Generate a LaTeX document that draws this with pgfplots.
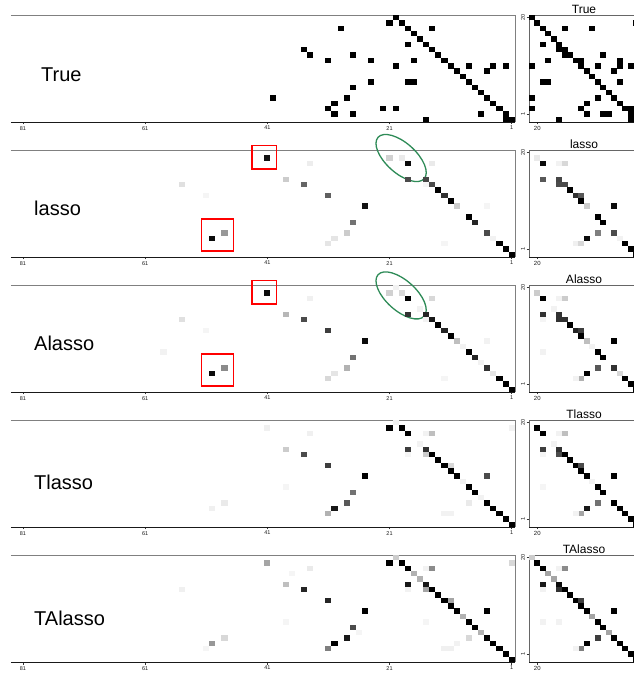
\documentclass[border=0pt]{standalone}
\usepackage{fontspec}
\setmainfont{Liberation Sans}
\usepackage{pgfplots}
\usepackage{pgfplotstable}
\pgfplotsset{compat=1.18}
\usetikzlibrary{shapes.geometric}

\definecolor{ringgreen}{RGB}{46,139,87}

% one filled cell of the coefficient image
\pgfdeclareplotmark{wcell}{\pgfpathrectangle{\pgfpoint{-3.08pt}{-2.7pt}}{\pgfpoint{6.16pt}{5.4pt}}\pgfusepathqfill}
\pgfdeclareplotmark{ncell}{\pgfpathrectangle{\pgfpoint{-2.77pt}{-2.7pt}}{\pgfpoint{5.54pt}{5.4pt}}\pgfusepathqfill}

% ---------- lag matrices: column, row, |coefficient| ----------
\pgfplotstableread{
c r v
20 20 1
21 19 1
19 19 1
18 18 1
17 17 1
16 16 1
15 15 1
14 14 1
13 13 1
12 12 1
11 11 1
10 10 1
9 9 1
8 8 1
7 7 1
6 6 1
5 5 1
4 4 1
3 3 1
2 2 1
1 1 1
2 1 1
35 14 1
34 13 1
40 5 1
29 18 1
31 12 1
27 13 1
24 12 1
20 11 1
18 15 1
17 12 1
14 18 1
24 8 1
18 8 1
17 8 1
27 7 1
28 5 1
30 4 1
31 3 1
30 2 1
27 2 1
22 3 1
20 3 1
15 1 1
8 11 1
5 10 1
4 11 1
2 11 1
6 2 1
}\trueW

\pgfplotstableread{
c r v
20 20 1
19 19 1
18 18 1
17 17 1
16 16 1
15 15 1
14 14 1
13 13 1
12 12 1
11 11 1
10 10 1
9 9 1
8 8 1
7 7 1
6 6 1
5 5 1
4 4 1
3 3 1
2 2 1
1 1 1
2 1 1
1 19 1
15 14 1
14 13 1
20 5 1
9 18 1
11 12 1
7 13 1
4 12 1
20 11 1
18 15 1
17 12 1
14 18 1
4 8 1
18 8 1
17 8 1
8 5 1
10 4 1
11 3 1
10 2 1
7 2 1
2 3 1
20 3 1
15 1 1
8 11 1
5 10 1
4 11 1
2 11 1
6 2 1
}\trueN

\pgfplotstableread{
c r v
41 19 0.92
34 18 0.07
55 14 0.12
51 12 0.04
38 15 0.2
35 14 0.6
31 12 0.62
27 7 0.55
28 5 0.2
30 4 0.1
31 3 0.1
50 4 0.95
48 5 0.4
21 19 0.18
19 19 0.08
18 18 0.95
14 18 0.08
18 15 0.7
15 15 0.72
14 14 0.7
15 14 0.04
13 13 1
12 12 0.8
11 11 1
10 10 0.2
5 10 0.04
25 10 0.92
8 8 1
7 7 0.85
5 5 0.7
4 4 0.05
3 3 1
2 2 1
1 1 1
12 3 0.04
}\lassoW

\pgfplotstableread{
c r v
19 19 0.08
18 18 0.95
15 18 0.05
14 18 0.15
18 15 0.65
15 15 0.72
15 14 0.7
14 14 0.7
13 13 1
12 12 0.8
11 12 0.65
11 11 1
10 10 0.2
5 10 0.95
8 8 1
7 7 1
8 5 0.5
5 5 0.7
4 4 0.05
10 4 0.95
3 3 1
2 2 1
1 1 1
12 3 0.06
11 3 0.15
}\lassoN

\pgfplotstableread{
c r v
41 19 0.95
34 18 0.06
55 14 0.12
51 12 0.04
38 15 0.28
35 14 0.7
31 12 0.75
58 8 0.05
50 4 0.95
48 5 0.45
28 5 0.3
30 4 0.1
31 3 0.15
27 7 0.55
21 19 0.18
20 20 0.05
19 19 0.15
18 18 1
14 18 0.15
16 16 0.05
18 15 0.8
15 15 0.85
14 14 0.9
15 14 0.05
13 13 1
12 12 0.85
11 11 1
10 10 0.25
9 9 0.05
5 10 0.05
25 10 0.95
8 8 1
7 7 0.85
6 6 0.05
5 5 0.8
4 4 0.1
3 3 1
2 2 1
1 1 1
12 3 0.04
}\alassoW

\pgfplotstableread{
c r v
19 19 0.2
18 18 1
15 18 0.05
14 18 0.2
16 16 0.05
18 15 0.8
18 14 0.04
15 15 0.8
15 14 0.8
14 14 0.8
13 13 1
12 12 0.85
11 12 0.75
11 11 1
10 10 0.25
5 10 1
9 9 0.05
18 8 0.05
8 8 1
7 7 1
8 5 0.65
5 5 0.8
4 4 0.15
10 4 1
3 3 1
11 3 0.3
12 3 0.05
2 2 1
1 1 1
}\alassoN

\pgfplotstableread{
c r v
20 20 0.05
21 19 1
19 19 1
18 18 1
15 18 0.05
14 18 0.25
41 19 0.06
34 18 0.06
38 15 0.2
35 14 0.7
31 12 0.75
25 10 1
27 7 0.55
28 5 0.65
30 4 0.9
31 3 0.3
38 8 0.04
48 5 0.08
50 4 0.06
18 15 0.75
18 14 0.04
16 16 0.05
15 15 0.8
15 14 0.2
14 14 1
13 13 1
12 12 1
11 12 0.15
11 11 1
10 10 1
9 9 0.06
5 10 0.7
8 8 1
7 7 1
6 6 0.05
8 5 0.08
5 5 1
4 4 1
3 3 1
2 2 1
1 1 1
12 3 0.05
11 3 0.05
1 19 0.05
}\tlassoW

\pgfplotstableread{
c r v
19 19 1
18 18 1
15 18 0.05
14 18 0.25
16 16 0.05
18 15 0.75
18 14 0.04
15 15 0.8
15 14 0.7
14 14 1
13 13 1
12 12 1
11 12 0.7
11 11 1
10 10 1
5 10 1
9 9 0.05
18 8 0.04
8 8 1
7 7 1
8 5 0.55
5 5 1
4 4 1
10 4 0.9
3 3 1
11 3 0.35
12 3 0.05
2 2 1
1 1 1
}\tlassoN

\pgfplotstableread{
c r v
20 20 0.2
21 19 1
19 19 1
18 18 1
17 17 0.3
16 16 0.3
15 18 0.05
14 18 0.45
41 19 0.35
34 18 0.08
37 17 0.04
55 14 0.06
38 15 0.25
35 14 0.85
31 12 0.85
25 10 1
27 7 0.7
28 5 0.9
26 6 0.04
30 4 1
31 3 0.5
38 8 0.04
48 5 0.15
50 4 0.4
51 3 0.04
18 15 0.9
18 14 0.05
15 15 0.9
15 14 0.35
14 14 1
13 13 1
12 12 1
11 12 0.35
11 11 1
10 10 1
9 9 0.3
15 8 0.04
8 8 1
7 7 1
6 6 0.3
8 5 0.15
5 10 1
5 5 1
4 4 1
3 3 1
2 2 1
1 1 1
12 3 0.06
11 3 0.06
10 4 0.05
1 19 0.15
}\talassoW

\pgfplotstableread{
c r v
20 20 0.2
19 19 1
18 18 1
17 17 0.35
16 16 0.35
15 18 0.05
14 18 0.45
18 15 0.9
18 14 0.05
15 15 0.95
15 14 0.8
14 14 1
13 13 1
12 12 1
11 12 0.75
11 11 1
10 10 1
5 10 1
9 9 0.35
18 8 0.05
15 8 0.05
8 8 1
7 7 1
6 6 0.35
8 5 0.75
5 5 1
4 4 1
10 4 1
3 3 1
11 3 0.5
12 3 0.05
2 2 1
1 1 1
}\talassoN

\pgfplotsset{
  cellmap/.style={colormap={bw}{color=(white) color=(black)},
    point meta min=0, point meta max=1},
  wide/.style={cellmap, anchor=north west,
    x=6.11pt, y=5.35pt, x dir=reverse,
    xmin=0.45, xmax=82.95, ymin=0.5, ymax=20.5,
    axis line style={draw=none}, clip=false,
    xtick={1,21,41,61,81}, xticklabels={1,21,41,61,81}, ytick=\empty,
    xtick pos=lower, tick align=outside, major tick length=2.5pt,
    tick style={black!80, line width=0.6pt},
    xticklabel style={font=\fontsize{5.5}{5.5}\selectfont, text=black!90, inner sep=1.5pt}},
  narrow/.style={cellmap, anchor=north west,
    x=5.5pt, y=5.35pt, x dir=reverse,
    xmin=0.5, xmax=20.5, ymin=0.5, ymax=20.5,
    axis line style={draw=none}, clip=false,
    % tick marks sit where the image axis puts them
    xtick={19}, xticklabels={20}, ytick={2,20}, yticklabels={1,20},
    xtick pos=lower, ytick pos=left, tick align=outside, major tick length=2.5pt,
    tick style={black!80, line width=0.6pt},
    xticklabel style={font=\fontsize{6}{6}\selectfont, text=black!90, inner sep=1.5pt},
    yticklabel style={font=\fontsize{5.5}{5.5}\selectfont, text=black!90, rotate=90, anchor=south, inner sep=1.5pt},
    title style={font=\fontsize{12}{12}\selectfont, at={(0.5,1)}, anchor=base, yshift=-5pt}},
}

\newcommand{\wideframe}{%
  \draw[black!50, line width=0.9pt] (axis cs:82.95,20.5) -- (axis cs:0.45,20.5) -- (axis cs:0.45,0.5);
  \draw[black!90, line width=0.8pt] (axis cs:82.95,0.5) -- (axis cs:0.45,0.5);}
\newcommand{\narrowframe}{%
  \draw[black!60, line width=0.8pt] (axis cs:20.5,0.5) -- (axis cs:20.5,20.5) -- (axis cs:0.5,20.5);
  \draw[black!90, line width=0.8pt] (axis cs:20.5,0.5) -- (axis cs:0.5,0.5);}
\newcommand{\highlights}[2]{%
  \draw[red, line width=1.1pt] (axis cs:43.5,21.34) rectangle (axis cs:39.55,16.95);
  \draw[red, line width=1.1pt] (axis cs:51.77,7.6) rectangle (axis cs:46.6,1.62);
  \node[draw=ringgreen, line width=1.3pt, ellipse, rotate=-42, minimum width=62pt,
        minimum height=30pt, inner sep=0pt] at (axis cs:#1,#2) {};}

\begin{document}
\begin{tikzpicture}
% ---- True ----
\begin{axis}[wide, at={(11pt,662pt)}]
  \addplot[scatter, only marks, mark=wcell, point meta=explicit] table[x=c, y=r, meta=v] {\trueW};
  \wideframe
\end{axis}
\begin{axis}[narrow, at={(529pt,662pt)}, title={True}]
  \addplot[scatter, only marks, mark=ncell, point meta=explicit] table[x=c, y=r, meta=v] {\trueN};
  \narrowframe
\end{axis}
% ---- lasso ----
\begin{axis}[wide, at={(11pt,527pt)}]
  \addplot[scatter, only marks, mark=wcell, point meta=explicit] table[x=c, y=r, meta=v] {\lassoW};
  \wideframe
  \highlights{19.1}{19.0}
\end{axis}
\begin{axis}[narrow, at={(529pt,527pt)}, title={lasso}]
  \addplot[scatter, only marks, mark=ncell, point meta=explicit] table[x=c, y=r, meta=v] {\lassoN};
  \narrowframe
\end{axis}
% ---- Alasso ----
\begin{axis}[wide, at={(11pt,392pt)}]
  \addplot[scatter, only marks, mark=wcell, point meta=explicit] table[x=c, y=r, meta=v] {\alassoW};
  \wideframe
  \highlights{19.1}{18.55}
\end{axis}
\begin{axis}[narrow, at={(529pt,392pt)}, title={Alasso}]
  \addplot[scatter, only marks, mark=ncell, point meta=explicit] table[x=c, y=r, meta=v] {\alassoN};
  \narrowframe
\end{axis}
% ---- Tlasso ----
\begin{axis}[wide, at={(11pt,257pt)}]
  \addplot[scatter, only marks, mark=wcell, point meta=explicit] table[x=c, y=r, meta=v] {\tlassoW};
  \wideframe
\end{axis}
\begin{axis}[narrow, at={(529pt,257pt)}, title={Tlasso}]
  \addplot[scatter, only marks, mark=ncell, point meta=explicit] table[x=c, y=r, meta=v] {\tlassoN};
  \narrowframe
\end{axis}
% ---- TAlasso ----
\begin{axis}[wide, at={(11pt,122pt)}]
  \addplot[scatter, only marks, mark=wcell, point meta=explicit] table[x=c, y=r, meta=v] {\talassoW};
  \wideframe
\end{axis}
\begin{axis}[narrow, at={(529pt,122pt)}, title={TAlasso}]
  \addplot[scatter, only marks, mark=ncell, point meta=explicit] table[x=c, y=r, meta=v] {\talassoN};
  \narrowframe
\end{axis}

% method names
\node[anchor=base west, font=\fontsize{20}{24}\selectfont, inner sep=0pt] at (41pt,595.5pt) {True};
\node[anchor=base west, font=\fontsize{20}{24}\selectfont, inner sep=0pt] at (34pt,461pt) {lasso};
\node[anchor=base west, font=\fontsize{20}{24}\selectfont, inner sep=0pt] at (34pt,326pt) {Alasso};
\node[anchor=base west, font=\fontsize{20}{24}\selectfont, inner sep=0pt] at (34pt,187pt) {Tlasso};
\node[anchor=base west, font=\fontsize{20}{24}\selectfont, inner sep=0pt] at (34pt,51pt) {TAlasso};

\pgfresetboundingbox
\path[use as bounding box] (0,0) rectangle (634pt,677pt);
\end{tikzpicture}
\end{document}
